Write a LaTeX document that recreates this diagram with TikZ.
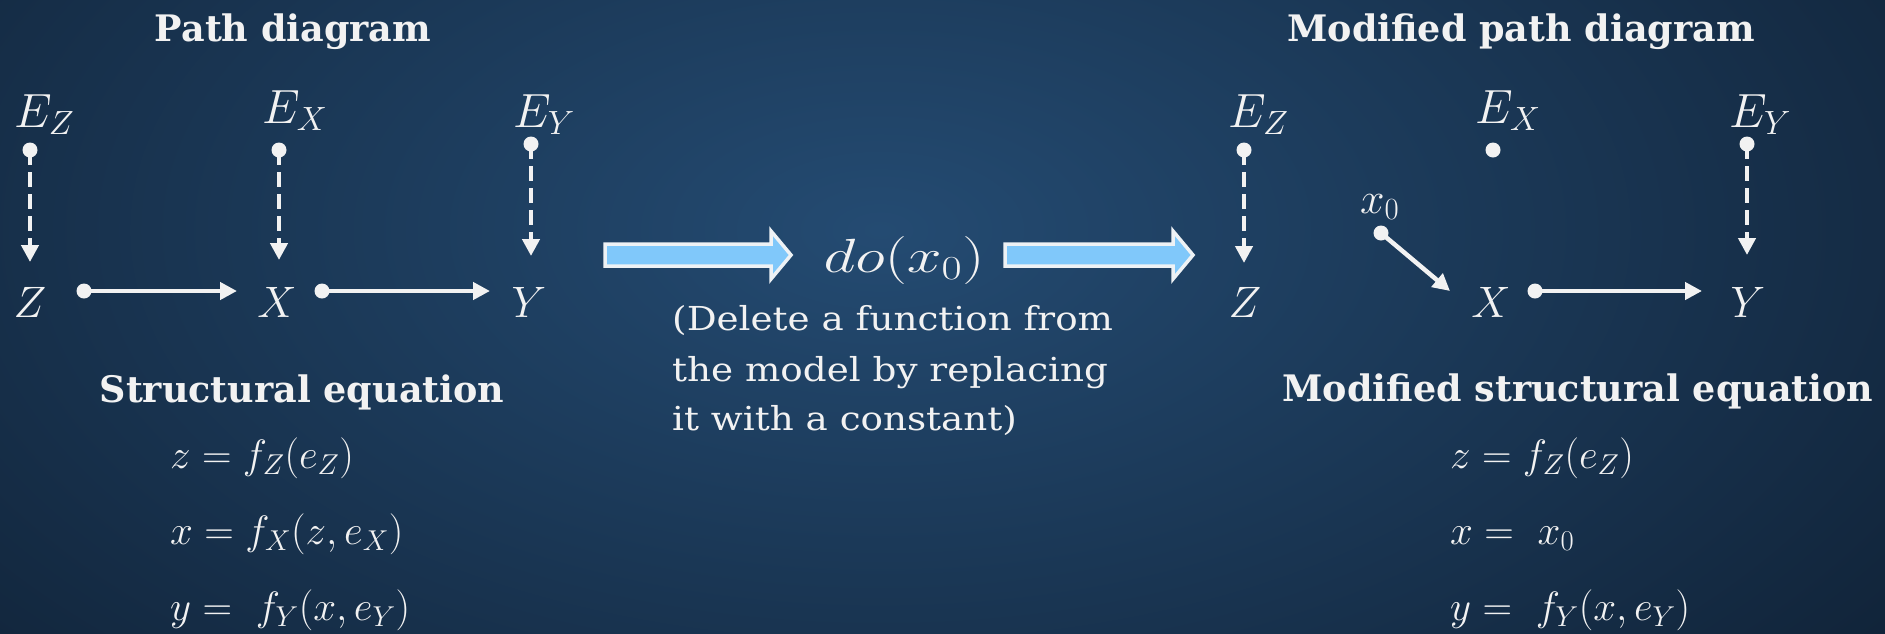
\RequirePackage{fix-cm}
\documentclass[tikz,border=0pt]{standalone}
\usepackage{fontspec}
\newfontfamily\titlefont{DejaVu Serif}
\usetikzlibrary{arrows.meta}
\definecolor{bgin}{HTML}{244B72}
\definecolor{bgout}{HTML}{0D1C2E}
\definecolor{fg}{HTML}{F2F2F2}
\definecolor{arrfill}{HTML}{80C8FA}
\definecolor{arredge}{HTML}{EEF2F5}
\begin{document}
\begin{tikzpicture}[x=1pt,y=-1pt,
  title/.style={text=fg, font=\titlefont\bfseries\fontsize{36.5}{40}\selectfont, inner sep=0pt, anchor=base},
  elabel/.style={text=fg, font=\fontsize{48}{52}\selectfont, inner sep=0pt, anchor=base west},
  vlabel/.style={text=fg, font=\fontsize{44}{48}\selectfont, inner sep=0pt, anchor=base},
  eqn/.style={text=fg, font=\fontsize{41}{45}\selectfont, inner sep=0pt, anchor=base west},
  bodytext/.style={text=fg, font=\titlefont\fontsize{33}{40}\selectfont, inner sep=0pt, anchor=base west},
  dot/.style={circle, fill=fg, inner sep=0pt, minimum size=15pt},
  solidarr/.style={draw=fg, line width=4.5pt, -{Triangle[width=17pt,length=17pt]}},
  dasharr/.style={solidarr, dash pattern=on 15pt off 7pt},
  blockarrow/.style={fill=arrfill, draw=arredge, line width=3.5pt, line join=miter},
]
\useasboundingbox (0,0) rectangle (1885,633);
% background
\fill[bgout] (0,0) rectangle (1885,633);
\begin{scope}
\clip (0,0) rectangle (1885,633);
\shade[inner color=bgin, outer color=bgout] (880,230) ellipse (1500 and 820);
\end{scope}

% ---------- left: path diagram ----------
\node[title] (t1) at (293,41) {Path diagram};
\node[elabel] (EZ) at (14,127) {$E_Z$};
\node[elabel] (EX) at (262,123) {$E_X$};
\node[elabel] (EY) at (513,127) {$E_Y$};
\node[dot] (dEZ) at (30,150) {};
\node[dot] (dEX) at (279,150) {};
\node[dot] (dEY) at (531,144) {};
\node[vlabel] (Z) at (30,317) {$Z$};
\node[vlabel] (X) at (277,317) {$X$};
\node[vlabel] (Y) at (529,317) {$Y$};
\coordinate (tZ) at (30,262);
\coordinate (tX) at (279,260);
\coordinate (tY) at (531,256);
\draw[dasharr] (dEZ.center) -- (tZ);
\draw[dasharr] (dEX.center) -- (tX);
\draw[dasharr] (dEY.center) -- (tY);
\node[dot] (dZX) at (84,291) {};
\coordinate (hX) at (237,291);
\draw[solidarr] (dZX.center) -- (hX);
\node[dot] (dXY) at (322,291) {};
\coordinate (hY) at (490,291);
\draw[solidarr] (dXY.center) -- (hY);

\node[title] (t2) at (302,402) {Structural equation};
\node[eqn] (e1) at (170,468) {$z = f_Z(e_Z)$};
\node[eqn] (e2) at (170,544) {$x = f_X(z,e_X)$};
\node[eqn] (e3) at (170,620) {$y = \ f_Y(x,e_Y)$};

% ---------- middle ----------
\draw[blockarrow] (605,244) -- (771,244) -- (771,231) -- (791,255) -- (771,279) -- (771,266) -- (605,266) -- cycle;
\draw[blockarrow] (1005,244) -- (1173,244) -- (1173,231) -- (1193,255) -- (1173,279) -- (1173,266) -- (1005,266) -- cycle;
\node[text=fg, font=\fontsize{48}{52}\selectfont, inner sep=0pt, anchor=base] (do) at (904,272) {\scalebox{1.3}[1]{$do(x_0)$}};
\node[bodytext] (m1) at (672,330) {\scalebox{1.13}[1]{(Delete a function from}};
\node[bodytext] (m2) at (672,381) {\scalebox{1.13}[1]{the model by replacing}};
\node[bodytext] (m3) at (672,430) {\scalebox{1.13}[1]{it with a constant)}};

% ---------- right: modified path diagram ----------
\node[title] (t3) at (1521,41) {Modified path diagram};
\node[elabel] (EZr) at (1228,127) {$E_Z$};
\node[elabel] (EXr) at (1475,123) {$E_X$};
\node[elabel] (EYr) at (1729,127) {$E_Y$};
\node[dot] (dEZr) at (1244,150) {};
\node[dot] (dEXr) at (1493,150) {};
\node[dot] (dEYr) at (1747,144) {};
\node[vlabel] (Zr) at (1245,317) {$Z$};
\node[vlabel] (Xr) at (1491,317) {$X$};
\node[vlabel] (Yr) at (1748,317) {$Y$};
\coordinate (tZr) at (1244,263);
\coordinate (tYr) at (1747,255);
\draw[dasharr] (dEZr.center) -- (tZr);
\draw[dasharr] (dEYr.center) -- (tYr);
\node[elabel, font=\fontsize{44}{48}\selectfont] (x0) at (1360,213) {$x_0$};
\node[dot] (dx0) at (1381,233) {};
\coordinate (hx0) at (1450,291);
\draw[solidarr] (dx0.center) -- (hx0);
\node[dot] (dXYr) at (1535,291) {};
\coordinate (hYr) at (1702,291);
\draw[solidarr] (dXYr.center) -- (hYr);

\node[title] (t4) at (1578,401) {Modified structural equation};
\node[eqn] (r1) at (1450,468) {$z = f_Z(e_Z)$};
\node[eqn] (r2) at (1450,544) {$x = \ x_0$};
\node[eqn] (r3) at (1450,620) {$y = \ f_Y(x,e_Y)$};
\end{tikzpicture}
\end{document}
